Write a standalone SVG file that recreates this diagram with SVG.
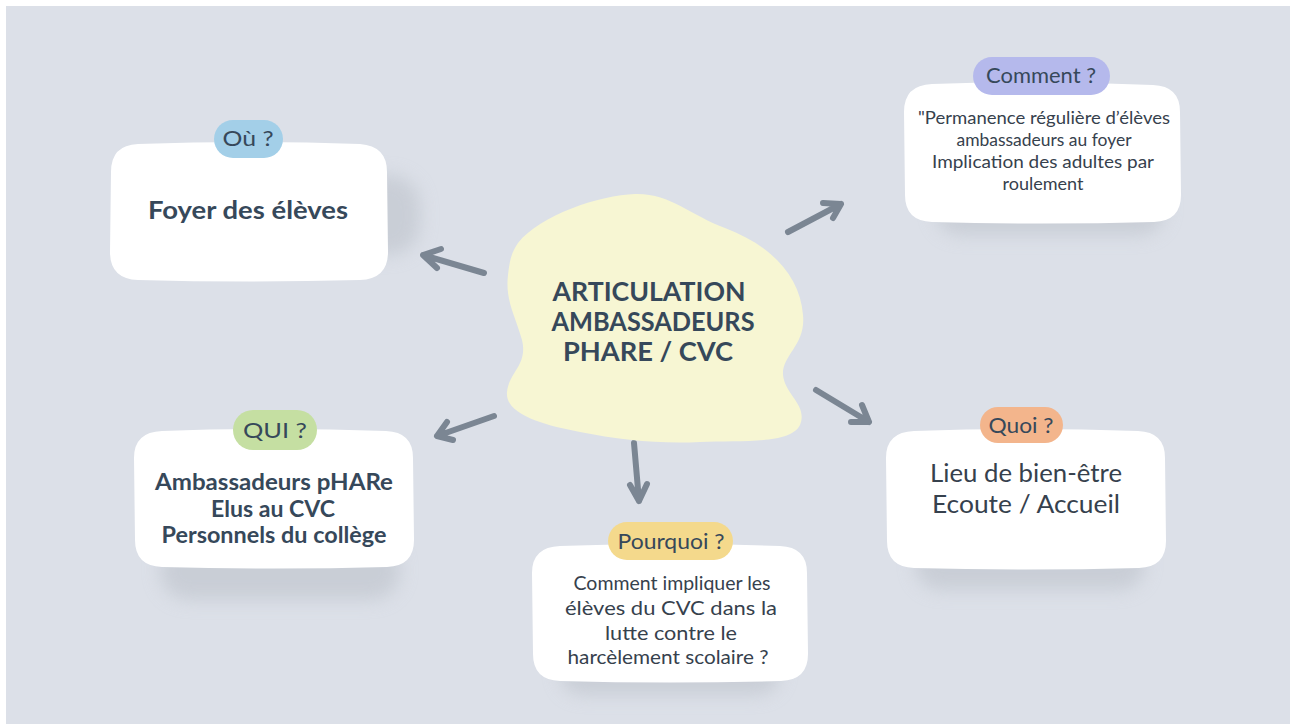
<svg xmlns="http://www.w3.org/2000/svg" width="1290" height="724" viewBox="0 0 1290 724">
<defs>
<filter id="blur" x="-30%" y="-50%" width="160%" height="200%"><feGaussianBlur stdDeviation="9"/></filter>
<style>
.bg{fill:#dce0e8}
.card{fill:#ffffff}
.shadow{fill:#c3c8d0;opacity:0.75;filter:url(#blur)}
.pill-t{font-family:"Lato","Noto Sans",sans-serif;font-size:21px;fill:#36485a;text-anchor:middle}
.bold{font-family:"Lato","Noto Sans",sans-serif;font-weight:700;fill:#36485a;text-anchor:middle}
.reg{font-family:"Lato","Noto Sans",sans-serif;fill:#36414d;text-anchor:middle}
.arrow{fill:none;stroke:#7b8693;stroke-width:6;stroke-linecap:round;stroke-linejoin:round}
</style>
</defs>
<rect width="1290" height="724" fill="#ffffff"/>
<rect class="bg" x="6" y="6" width="1284" height="718"/>

<g id="shadows">
<rect class="shadow" x="150" y="175" width="270" height="80" rx="30"/>
<rect class="shadow" x="935" y="180" width="230" height="55" rx="25"/>
<rect class="shadow" x="160" y="540" width="240" height="60" rx="28"/>
<rect class="shadow" x="560" y="650" width="220" height="45" rx="22"/>
<rect class="shadow" x="915" y="540" width="230" height="50" rx="25"/>
</g>

<g id="connectors">
<path class="arrow" d="M484,273 L423,255 M441,249 L423,255 L437,268"/>
<path class="arrow" d="M788,232 L841,204 M823,203 L841,204 L833,218"/>
<path class="arrow" d="M494,416 L437,436 M447,422 L437,436 L453,440"/>
<path class="arrow" d="M634,443 L639,501 M630,485 L639,501 L647,484"/>
<path class="arrow" d="M816,390 L869,422 M862,405 L869,422 L851,422"/>
</g>

<g id="center">
<path fill="#f7f6d3" d="M518,243 C540,215 600,195 635,194 C670,193 690,215 725,228 C770,245 800,275 803,315 C806,345 782,355 783,375 C785,395 808,405 800,425 C790,445 740,440 700,442 C660,444 620,440 580,432 C545,425 505,415 507,392 C509,372 528,365 522,340 C515,315 505,300 508,275 C510,258 512,252 518,243 Z"/>
<text class="bold" font-size="26" x="649" y="301" textLength="193" lengthAdjust="spacingAndGlyphs">ARTICULATION</text>
<text class="bold" font-size="26" x="653" y="331" textLength="203" lengthAdjust="spacingAndGlyphs">AMBASSADEURS</text>
<text class="bold" font-size="26" x="648" y="361" textLength="170" lengthAdjust="spacingAndGlyphs">PHARE / CVC</text>
</g>

<g id="node-ou">
<path class="card" d="M138,144 Q248,140 360,144 Q387,146 387,172 L388,252 Q388,279 360,280 Q248,283 138,280 Q110,279 110,252 L111,172 Q111,145 138,144 Z"/>
<rect x="214" y="120" width="69" height="38" rx="19" fill="#a3cfe8"/>
<text class="pill-t" x="248" y="146" textLength="51" lengthAdjust="spacingAndGlyphs">Où ?</text>
<text class="bold" font-size="25" x="248" y="219" textLength="200" lengthAdjust="spacingAndGlyphs">Foyer des élèves</text>
</g>

<g id="node-comment">
<path class="card" d="M932,84 Q1042,80 1153,85 Q1180,86 1180,112 L1181,195 Q1181,221 1154,222 Q1042,225 932,222 Q905,221 905,195 L904,112 Q904,85 932,84 Z"/>
<rect x="973" y="57" width="137" height="38" rx="19" fill="#b5b9ec"/>
<text class="pill-t" x="1041" y="83" font-size="22" textLength="110" lengthAdjust="spacingAndGlyphs">Comment ?</text>
<text class="reg" font-size="18" x="1044" y="124" textLength="252" lengthAdjust="spacingAndGlyphs">"Permanence régulière d’élèves</text>
<text class="reg" font-size="18" x="1044" y="146" textLength="175" lengthAdjust="spacingAndGlyphs">ambassadeurs au foyer</text>
<text class="reg" font-size="18" x="1043" y="168" textLength="222" lengthAdjust="spacingAndGlyphs">Implication des adultes par</text>
<text class="reg" font-size="18" x="1043" y="190" textLength="81" lengthAdjust="spacingAndGlyphs">roulement</text>
</g>

<g id="node-qui">
<path class="card" d="M162,431 Q274,427 386,431 Q413,432 413,458 L414,540 Q414,566 387,567 Q274,570 162,567 Q135,566 135,540 L134,458 Q134,432 162,431 Z"/>
<rect x="233" y="410" width="84" height="40" rx="20" fill="#c5dfa2"/>
<text class="pill-t" x="275" y="438" textLength="64" lengthAdjust="spacingAndGlyphs">QUI ?</text>
<text class="bold" font-size="22" x="274" y="490" textLength="238" lengthAdjust="spacingAndGlyphs">Ambassadeurs pHARe</text>
<text class="bold" font-size="22" x="273" y="517" textLength="124" lengthAdjust="spacingAndGlyphs">Elus au CVC</text>
<text class="bold" font-size="22" x="274" y="543" textLength="225" lengthAdjust="spacingAndGlyphs">Personnels du collège</text>
</g>

<g id="node-pourquoi">
<path class="card" d="M560,546 Q670,542 780,546 Q807,547 807,573 L808,654 Q808,680 781,681 Q670,684 560,681 Q533,680 533,654 L532,573 Q532,547 560,546 Z"/>
<rect x="608" y="522" width="125" height="38" rx="19" fill="#f4d98c"/>
<text class="pill-t" x="671" y="549" textLength="107" lengthAdjust="spacingAndGlyphs">Pourquoi ?</text>
<text class="reg" font-size="19" x="672" y="590" textLength="197" lengthAdjust="spacingAndGlyphs">Comment impliquer les</text>
<text class="reg" font-size="19" x="671" y="615" textLength="212" lengthAdjust="spacingAndGlyphs">élèves du CVC dans la</text>
<text class="reg" font-size="19" x="671" y="640" textLength="132" lengthAdjust="spacingAndGlyphs">lutte contre le</text>
<text class="reg" font-size="19" x="668" y="664" textLength="201" lengthAdjust="spacingAndGlyphs">harcèlement scolaire ?</text>
</g>

<g id="node-quoi">
<path class="card" d="M914,431 Q1026,427 1138,431 Q1165,432 1165,458 L1166,541 Q1166,567 1139,568 Q1026,571 914,568 Q887,567 887,541 L886,458 Q886,432 914,431 Z"/>
<rect x="980" y="407" width="83" height="36" rx="18" fill="#f3b58c"/>
<text class="pill-t" x="1021" y="433" textLength="65" lengthAdjust="spacingAndGlyphs">Quoi ?</text>
<text class="reg" font-size="25" x="1026" y="482" textLength="192" lengthAdjust="spacingAndGlyphs">Lieu de bien-être</text>
<text class="reg" font-size="25" x="1026" y="513" textLength="188" lengthAdjust="spacingAndGlyphs">Ecoute / Accueil</text>
</g>
</svg>
